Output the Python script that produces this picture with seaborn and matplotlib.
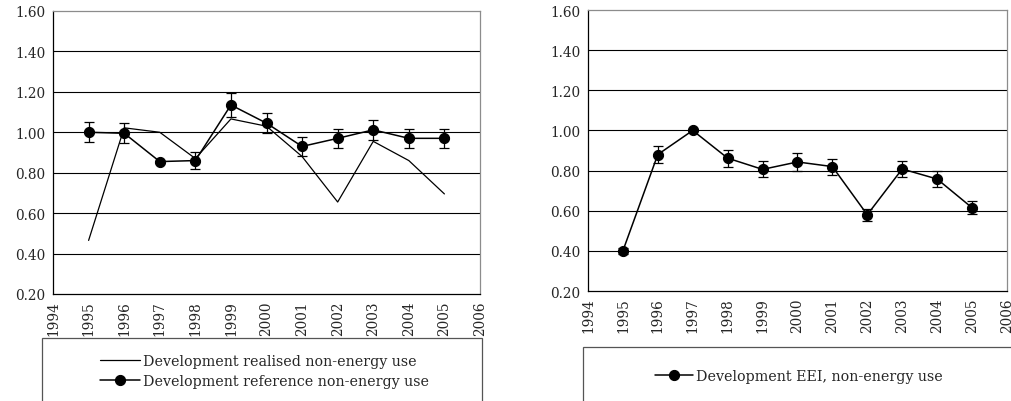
import matplotlib
matplotlib.use("Agg")
import matplotlib.pyplot as plt
import seaborn as sns
import pandas as pd
from matplotlib.patches import Rectangle

years = [1995, 1996, 1997, 1998, 1999, 2000, 2001, 2002, 2003, 2004, 2005]
realised = [0.465, 1.022, 1.00, 0.87, 1.066, 1.03, 0.88, 0.655, 0.955, 0.86, 0.695]
reference = [1.00, 0.995, 0.855, 0.86, 1.135, 1.045, 0.93, 0.97, 1.012, 0.97, 0.97]
reference_err = [0.05, 0.05, 0.005, 0.043, 0.057, 0.05, 0.045, 0.048, 0.05, 0.048, 0.048]
eei = [0.40, 0.88, 1.00, 0.862, 0.806, 0.843, 0.82, 0.58, 0.808, 0.758, 0.615]
eei_err = [0.015, 0.043, 0.005, 0.042, 0.04, 0.043, 0.04, 0.03, 0.04, 0.04, 0.031]
xticks = list(range(1994, 2007))
yticks = [0.20, 0.40, 0.60, 0.80, 1.00, 1.20, 1.40, 1.60]

label_realised = "Development realised non-energy use"
label_reference = "Development reference non-energy use"
label_eei = "Development EEI, non-energy use"

sns.set_style("white")
plt.rcParams["font.family"] = ["DejaVu Serif", "Liberation Serif"]
FS = 9.8
LFS = 10.3
plt.rcParams["font.size"] = FS

df_left = pd.DataFrame({"year": years, "realised": realised, "reference": reference})
df_right = pd.DataFrame({"year": years, "eei": eei})

fig = plt.figure(figsize=(10.12, 4.02), dpi=100)
ax1 = fig.add_axes([0.0524, 0.2662, 0.4219, 0.704])
ax2 = fig.add_axes([0.581, 0.2736, 0.414, 0.699])


def style(ax):
    ax.set_xlim(1994, 2006)
    ax.set_ylim(0.2, 1.6)
    ax.set_xticks(xticks)
    ax.set_xticklabels([str(t) for t in xticks], rotation=90)
    ax.set_yticks(yticks)
    ax.set_yticklabels([f"{v:.2f}" for v in yticks])
    for v in yticks[1:-1]:
        ax.axhline(v, color="black", lw=0.8, zorder=0)
    ax.spines["left"].set_color("black")
    ax.spines["bottom"].set_color("black")
    ax.spines["top"].set_color("#8c8c8c")
    ax.spines["right"].set_color("#8c8c8c")
    for s in ax.spines.values():
        s.set_linewidth(0.9)
    ax.tick_params(axis="x", direction="inout", length=6, width=0.8, pad=1.5, labelsize=FS)
    ax.tick_params(axis="y", direction="out", length=4, width=0.8, pad=1.5, labelsize=FS)
    ax.set_xlabel("")
    ax.set_ylabel("")


# Left panel
sns.lineplot(data=df_left, x="year", y="realised", ax=ax1, color="black", lw=0.9,
             label=label_realised, legend=False, zorder=3)
ax1.errorbar(years, reference, yerr=reference_err, fmt="none", ecolor="black",
             elinewidth=0.9, capsize=3.5, capthick=0.9, zorder=4)
sns.lineplot(data=df_left, x="year", y="reference", ax=ax1, color="black", lw=1.1,
             marker="o", markersize=7.3, markeredgecolor="black", markerfacecolor="black",
             label=label_reference, legend=False, zorder=5)
style(ax1)

# Right panel
ax2.errorbar(years, eei, yerr=eei_err, fmt="none", ecolor="black",
             elinewidth=0.9, capsize=3.5, capthick=0.9, zorder=4)
sns.lineplot(data=df_right, x="year", y="eei", ax=ax2, color="black", lw=1.1,
             marker="o", markersize=7.3, markeredgecolor="black", markerfacecolor="black",
             label=label_eei, legend=False, zorder=5)
style(ax2)

# Legend boxes
fig.patches.append(Rectangle((0.0415, -0.1), 0.4345, 0.2567, transform=fig.transFigure,
                             fill=False, edgecolor="#555555", lw=0.9))
fig.patches.append(Rectangle((0.576, -0.1), 0.5, 0.234, transform=fig.transFigure,
                             fill=False, edgecolor="#555555", lw=0.9))

h1, l1 = ax1.get_legend_handles_labels()
fig.legend(h1, l1, loc="center left", bbox_to_anchor=(0.0988, 0.0746), frameon=False,
           borderpad=0, borderaxespad=0, handlelength=2.8, handletextpad=0.2,
           labelspacing=0.38, fontsize=LFS)
h2, l2 = ax2.get_legend_handles_labels()
fig.legend(h2, l2, loc="center left", bbox_to_anchor=(0.647, 0.062), frameon=False,
           borderpad=0, borderaxespad=0, handlelength=2.7, handletextpad=0.2,
           fontsize=LFS)

fig.savefig("out.png", dpi=100)
